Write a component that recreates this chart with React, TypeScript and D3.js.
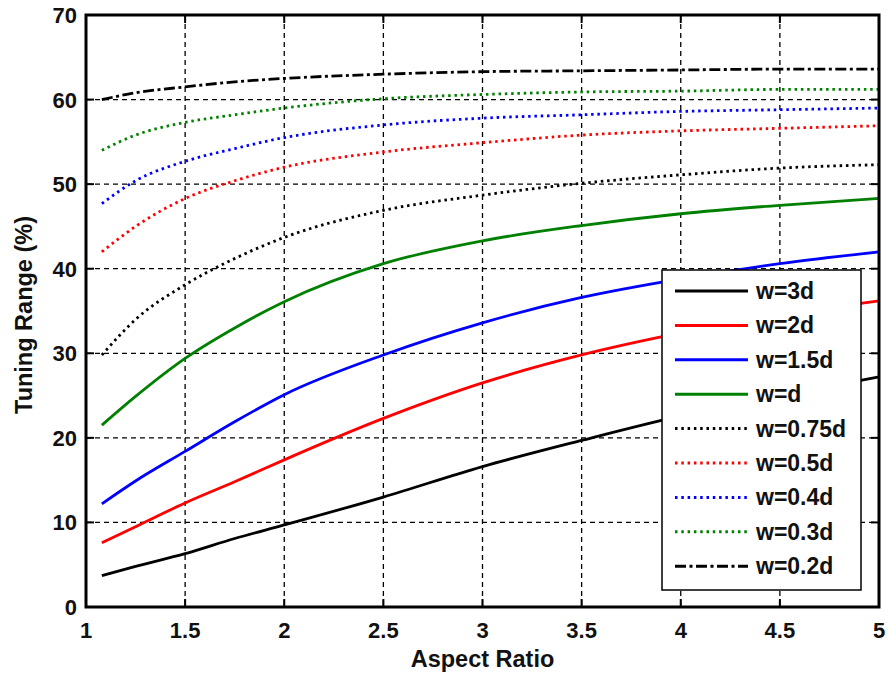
import React from "react";
import * as d3 from "d3";

const xValues = [1.08, 1.25, 1.5, 1.75, 2, 2.5, 3, 3.5, 4, 4.5, 5];

const w3d = [3.7, 4.8, 6.3, 8.1, 9.7, 13.0, 16.6, 19.7, 22.6, 25.0, 27.2];
const w2d = [7.6, 9.5, 12.3, 14.8, 17.4, 22.3, 26.5, 29.8, 32.4, 34.5, 36.2];
const w15d = [12.2, 14.9, 18.4, 21.9, 25.1, 29.8, 33.6, 36.6, 38.8, 40.6, 42.0];
const w1d = [21.5, 24.9, 29.4, 33.0, 36.1, 40.6, 43.3, 45.1, 46.5, 47.5, 48.3];
const w075d = [29.8, 34.0, 38.1, 41.2, 43.7, 46.9, 48.7, 50.1, 51.1, 51.9, 52.3];
const w05d = [42.0, 45.0, 48.3, 50.4, 52.0, 53.8, 54.9, 55.8, 56.3, 56.6, 56.9];
const w04d = [47.7, 50.4, 52.7, 54.2, 55.5, 57.0, 57.8, 58.2, 58.6, 58.8, 59.0];
const w03d = [54.0, 55.8, 57.3, 58.2, 59.0, 60.1, 60.6, 60.9, 61.0, 61.2, 61.2];
const w02d = [60.0, 60.8, 61.5, 62.1, 62.5, 63.0, 63.3, 63.4, 63.5, 63.6, 63.6];

const seriesNames = ["w=3d", "w=2d", "w=1.5d", "w=d", "w=0.75d", "w=0.5d", "w=0.4d", "w=0.3d", "w=0.2d"];
const seriesValues = [w3d, w2d, w15d, w1d, w075d, w05d, w04d, w03d, w02d];
const seriesColors = ["#000000", "#ff0000", "#0000ff", "#008000", "#000000", "#ff0000", "#0000ff", "#008000", "#000000"];
const seriesStyles = ["solid", "solid", "solid", "solid", "dot", "dot", "dot", "dot", "dashdot"];

const xTicks = [1, 1.5, 2, 2.5, 3, 3.5, 4, 4.5, 5];
const yTicks = [0, 10, 20, 30, 40, 50, 60, 70];

const W = 888;
const H = 677;
const left = 86;
const right = 879;
const top = 15;
const bottom = 607;
const FONT = "'Liberation Sans', Arial, Helvetica, sans-serif";

const dashFor = (s: string) =>
  s === "dot" ? "2.5 3.8" : s === "dashdot" ? "11 3.5 3 3.5" : undefined;

export default function App() {
  const x = d3.scaleLinear().domain([1, 5]).range([left, right]);
  const y = d3.scaleLinear().domain([0, 70]).range([bottom, top]);
  const line = d3
    .line<number>()
    .x((_, i) => x(xValues[i]))
    .y((v) => y(v))
    .curve(d3.curveMonotoneX);

  const legX0 = 662;
  const legY0 = 270;
  const legW = 199;
  const legH = 320;
  const rowY0 = 291;
  const rowStep = 34.4;

  return (
    <svg
      width={W}
      height={H}
      style={{ position: "absolute", left: 0, top: 0, background: "#fff" }}
      fontFamily={FONT}
    >
      <rect x={0} y={0} width={W} height={H} fill="#fff" />
      {xTicks.slice(1, -1).map((t) => (
        <line key={"gx" + t} x1={x(t)} x2={x(t)} y1={top} y2={bottom} stroke="#000" strokeWidth={1.3} strokeDasharray="5 4" />
      ))}
      {yTicks.slice(1, -1).map((t) => (
        <line key={"gy" + t} x1={left} x2={right} y1={y(t)} y2={y(t)} stroke="#000" strokeWidth={1.3} strokeDasharray="5 4" />
      ))}
      {seriesValues.map((vals, i) => (
        <path
          key={"s" + i}
          d={line(vals) || ""}
          fill="none"
          stroke={seriesColors[i]}
          strokeWidth={2.8}
          strokeDasharray={dashFor(seriesStyles[i])}
        />
      ))}
      {xTicks.map((t) => (
        <g key={"tx" + t}>
          <line x1={x(t)} x2={x(t)} y1={bottom} y2={bottom - 8} stroke="#000" strokeWidth={2} />
          <line x1={x(t)} x2={x(t)} y1={top} y2={top + 8} stroke="#000" strokeWidth={2} />
          <text x={x(t)} y={638} textAnchor="middle" fontSize={22} fontWeight="bold" fill="#111">
            {String(t)}
          </text>
        </g>
      ))}
      {yTicks.map((t) => (
        <g key={"ty" + t}>
          <line x1={left} x2={left + 8} y1={y(t)} y2={y(t)} stroke="#000" strokeWidth={2} />
          <line x1={right} x2={right - 8} y1={y(t)} y2={y(t)} stroke="#000" strokeWidth={2} />
          <text x={77} y={y(t) + 8} textAnchor="end" fontSize={22} fontWeight="bold" fill="#111">
            {String(t)}
          </text>
        </g>
      ))}
      <rect x={left} y={top} width={right - left} height={bottom - top} fill="none" stroke="#000" strokeWidth={3} />
      <rect x={legX0} y={legY0} width={legW} height={legH} fill="#fff" stroke="#000" strokeWidth={1.5} />
      {seriesNames.map((n, i) => {
        const ry = rowY0 + i * rowStep;
        return (
          <g key={"l" + i}>
            <line x1={675} x2={748} y1={ry} y2={ry} stroke={seriesColors[i]} strokeWidth={3} strokeDasharray={dashFor(seriesStyles[i])} />
            <text x={756} y={ry + 8} fontSize={23} fontWeight="bold" fill="#111">
              {n}
            </text>
          </g>
        );
      })}
      <text x={(left + right) / 2} y={667} textAnchor="middle" fontSize={23.5} fontWeight="bold" fill="#111">
        Aspect Ratio
      </text>
      <text
        transform={`translate(32, ${(top + bottom) / 2 + 4}) rotate(-90)`}
        textAnchor="middle"
        fontSize={23.5}
        fontWeight="bold"
        fill="#111"
      >
        Tuning Range (%)
      </text>
    </svg>
  );
}
